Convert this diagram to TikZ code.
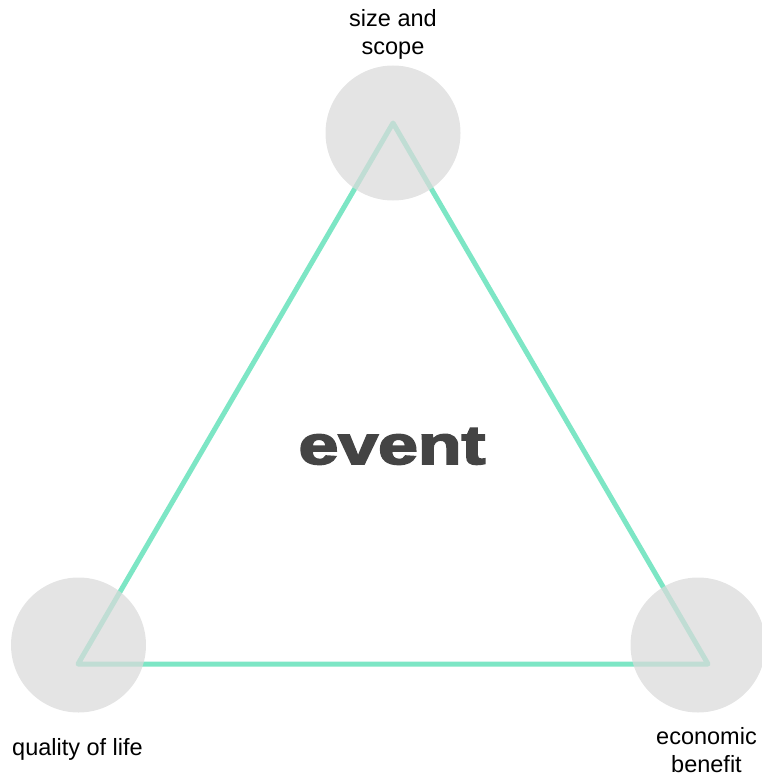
\documentclass[tikz,border=0pt]{standalone}
\usepackage{fontspec}
\setmainfont{Liberation Sans}
\definecolor{tri}{HTML}{7DE6C5}
\definecolor{dot}{HTML}{DADADA}
\definecolor{title}{HTML}{444444}
\tikzset{
  corner/.style={circle, fill=dot, fill opacity=0.72, draw=none, minimum size=135pt, inner sep=0pt},
  lab/.style={font=\fontsize{23.5}{28.5}\selectfont, align=center, inner sep=0pt, text=black},
  edge/.style={draw=tri, line width=5pt, line join=round, line cap=round}
}
\begin{document}
\begin{tikzpicture}[x=1pt,y=-1pt]
\useasboundingbox (0,0) rectangle (761,778);
\coordinate (vt) at (393,123);
\coordinate (vl) at (78,664);
\coordinate (vr) at (708,664);
\draw[edge] (vt) -- (vl) -- (vr) -- cycle;
\node[corner] (ct) at (393,133) {};
\node[corner] (cl) at (78.5,645) {};
\node[corner] (cr) at (698,645) {};
\node[lab, anchor=base] (lt) at (393,55) {size and\\scope};
\node[lab, anchor=base] (ll) at (77.5,755) {quality of life};
\node[lab, anchor=base] (lr) at (706.5,772.5) {economic\\benefit};
\node[font=\fontsize{55}{60}\selectfont\bfseries, text=title, inner sep=0pt, anchor=base] (ev) at (392,464) {\addfontfeatures{FakeBold=3}\scalebox{1.3}[1]{event}};
\end{tikzpicture}
\end{document}
